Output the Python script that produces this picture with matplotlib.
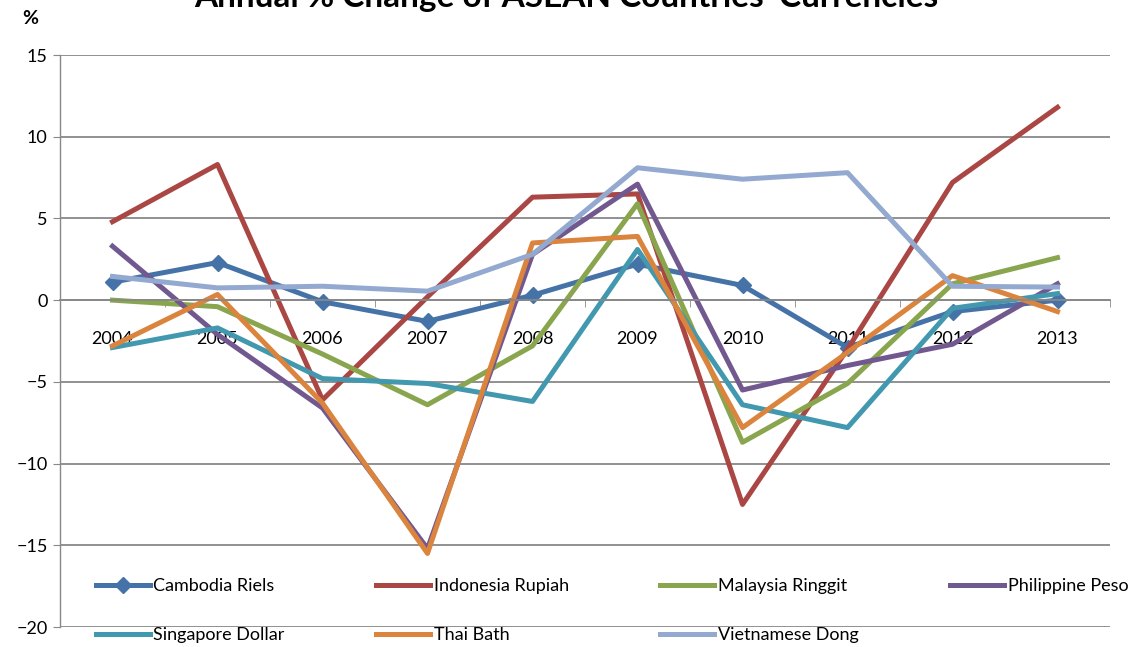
import matplotlib
matplotlib.use("Agg")
import matplotlib.pyplot as plt
import numpy as np

# ======================
# DATA
# ======================
years = ["2004", "2005", "2006", "2007", "2008", "2009", "2010", "2011", "2012", "2013"]

cambodia    = [1.1, 2.3, -0.1, -1.3, 0.3, 2.2, 0.9, -2.9, -0.7, 0.0]
indonesia   = [4.8, 8.3, -6.1, 0.2, 6.3, 6.5, -12.5, -3.0, 7.2, 11.8]
malaysia    = [0.0, -0.4, -3.3, -6.4, -2.8, 5.9, -8.7, -5.1, 1.0, 2.6]
philippine  = [3.3, -2.1, -6.6, -15.2, 2.8, 7.1, -5.5, -4.0, -2.7, 1.0]
singapore   = [-2.9, -1.7, -4.8, -5.1, -6.2, 3.1, -6.4, -7.8, -0.5, 0.4]
thai        = [-2.8, 0.35, -6.3, -15.5, 3.5, 3.9, -7.8, -3.2, 1.5, -0.7]
vietnam     = [1.45, 0.75, 0.85, 0.55, 2.8, 8.1, 7.4, 7.8, 0.85, 0.8]

series_names = ["Cambodia Riels", "Indonesia Rupiah", "Malaysia Ringgit", "Philippine Peso",
                "Singapore Dollar", "Thai Bath", "Vietnamese Dong"]
series_vals  = [cambodia, indonesia, malaysia, philippine, singapore, thai, vietnam]
colors       = ["#4572A7", "#AA4643", "#89A54E", "#71588F", "#4198AF", "#DB843D", "#93A9CF"]

# ======================
# FIGURE
# ======================
plt.rcParams['font.family'] = ['Lato', 'DejaVu Sans']
GRID = "#888888"

fig = plt.figure(figsize=(11.32, 6.47), dpi=100)
ax = fig.add_axes([60 / 1132, 20 / 647, 1050 / 1132, 572 / 647])

x = np.arange(len(years))
handles = []
for name, vals, col in zip(series_names, series_vals, colors):
    if name == "Cambodia Riels":
        h, = ax.plot(x, vals, color=col, lw=3.6, marker="D", ms=8, label=name)
    else:
        h, = ax.plot(x, vals, color=col, lw=3.6, label=name)
    handles.append(h)

ax.set_xlim(-0.5, len(years) - 0.5)
ax.set_ylim(-20, 15)
ax.set_yticks(np.arange(-20, 16, 5))
ax.yaxis.grid(True, color=GRID, lw=1.3)
ax.set_axisbelow(True)

for s in ["top", "right"]:
    ax.spines[s].set_visible(False)
ax.spines["left"].set_color(GRID)
ax.spines["left"].set_linewidth(1.0)
ax.spines["bottom"].set_position(("data", 0))
ax.spines["bottom"].set_color(GRID)
ax.spines["bottom"].set_linewidth(1.3)

ax.set_xticks(x)
ax.set_xticklabels(years)
ax.set_xticks(np.arange(-0.5, len(years), 1), minor=True)
ax.tick_params(axis="x", which="major", length=0, pad=22, labelsize=13)
ax.tick_params(axis="x", which="minor", length=5, color=GRID, direction="out")
ax.tick_params(axis="y", length=5, color=GRID, labelsize=13, pad=4)

# ======================
# TEXT
# ======================
# title sits partly above the top edge, as in the source image
fig.text(0.5, 1 - 7 / 647, "Annual % Change of ASEAN Countries' Currencies",
         ha="center", va="baseline", fontsize=24, fontweight="bold")
fig.text(22 / 1132, 1 - 19 / 647, "%", ha="left", va="center", fontsize=14, fontweight="bold")

# legend: rows C I M P / S T V  (column-major order)
order = [0, 4, 1, 5, 2, 6, 3]
fig.legend([handles[i] for i in order], [series_names[i] for i in order],
           ncol=4, mode="expand", frameon=False, fontsize=13,
           bbox_to_anchor=(92 / 1132, 0, 1040 / 1132, 90 / 647), loc="lower left",
           borderaxespad=0, borderpad=0.2, handlelength=3.0, handletextpad=0.2,
           labelspacing=1.85)

fig.savefig("out.png", dpi=100)
